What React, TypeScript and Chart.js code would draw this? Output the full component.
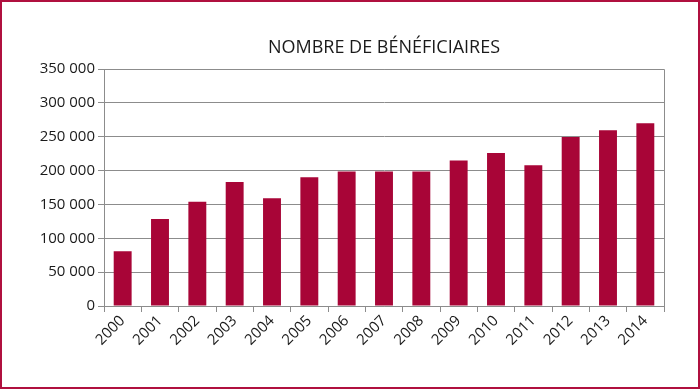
import React, { useEffect, useRef } from "react";
import { Chart, registerables } from "chart.js";

Chart.register(...registerables);

const years = ["2000","2001","2002","2003","2004","2005","2006","2007","2008","2009","2010","2011","2012","2013","2014"];
const beneficiaires = [81000,128500,154000,183000,159000,190000,198500,198500,198500,215000,226000,208000,249500,259500,270000];
const yTicks = [0,50000,100000,150000,200000,250000,300000,350000];
const titleText = "NOMBRE DE BÉNÉFICIAIRES";

const BAR = "#a80537";
const GRID = "#8c8c8c";
const FONT = "'Open Sans', 'Noto Sans', sans-serif";

const fmt = (v: number) => String(v).replace(/\B(?=(\d{3})+(?!\d))/g, " ");

const framePlugin = {
  id: "frame",
  afterDraw(chart: any) {
    const { ctx, chartArea } = chart;
    ctx.save();
    ctx.strokeStyle = GRID;
    ctx.lineWidth = 1;
    ctx.beginPath();
    ctx.moveTo(chartArea.left, chartArea.top + 0.5);
    ctx.lineTo(chartArea.right + 0.5, chartArea.top + 0.5);
    ctx.lineTo(chartArea.right + 0.5, chartArea.bottom);
    ctx.stroke();
    ctx.restore();
  },
};

export default function App() {
  const ref = useRef<HTMLCanvasElement>(null);
  useEffect(() => {
    document.body.style.margin = "0";
    const chart = new Chart(ref.current!, {
      type: "bar",
      data: {
        labels: years,
        datasets: [
          {
            data: beneficiaires,
            backgroundColor: BAR,
            borderWidth: 0,
            barPercentage: 0.48,
            categoryPercentage: 1,
          },
        ],
      },
      options: {
        animation: false,
        responsive: false,
        maintainAspectRatio: false,
        layout: { padding: { left: 0, right: 36, top: 0, bottom: 0 } },
        plugins: {
          legend: { display: false },
          tooltip: { enabled: false },
          title: {
            display: true,
            fullSize: false,
            text: titleText,
            color: "#1a1a1a",
            font: { family: FONT, size: 18, weight: "normal" },
            padding: { top: 37, bottom: 10.4 },
          },
        },
        scales: {
          x: {
            offset: true,
            grid: {
              display: true,
              offset: true,
              drawOnChartArea: false,
              drawTicks: true,
              tickLength: 6,
              color: GRID,
            },
            border: { display: true, color: GRID },
            ticks: {
              minRotation: 45,
              maxRotation: 45,
              color: "#1a1a1a",
              padding: 0,
              font: { family: FONT, size: 15 },
            },
            afterFit(scale: any) {
              scale.height = 83;
            },
          },
          y: {
            min: 0,
            max: 350000,
            afterBuildTicks(scale: any) {
              scale.ticks = yTicks.map((v) => ({ value: v }));
            },
            grid: {
              color: GRID,
              drawTicks: true,
              tickLength: 6,
            },
            border: { display: true, color: GRID },
            ticks: {
              color: "#1a1a1a",
              padding: 3,
              font: { family: FONT, size: 15 },
              callback: (v: any) => fmt(Number(v)),
            },
            afterFit(scale: any) {
              scale.width = 104;
            },
          },
        },
      },
      plugins: [framePlugin],
    });
    return () => chart.destroy();
  }, []);
  return (
    <div style={{ position: "relative", width: 700, height: 389 }}>
      <canvas ref={ref} width={700} height={389} style={{ display: "block" }} />
      <div
        style={{
          position: "absolute",
          left: 0,
          top: 0,
          width: 700,
          height: 389,
          boxSizing: "border-box",
          border: "2px solid #b0103f",
          pointerEvents: "none",
        }}
      />
    </div>
  );
}
